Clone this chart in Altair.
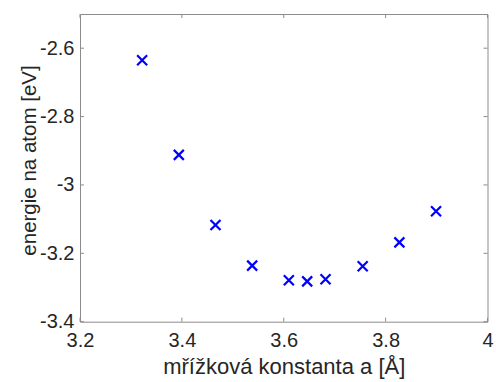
import altair as alt
import pandas as pd

# data
lattice_a = [3.322, 3.394, 3.466, 3.538, 3.610, 3.646, 3.682, 3.755, 3.827, 3.899]
energy = [-2.635, -2.912, -3.117, -3.236, -3.279, -3.282, -3.276, -3.238, -3.168, -3.077]
x_ticks = [3.2, 3.4, 3.6, 3.8, 4.0]
y_ticks = [-3.4, -3.2, -3.0, -2.8, -2.6]

W, H = 407.5, 307.7
FONT = "Liberation Sans"
TXT = "#262626"
FRAME = "#8c8c8c"

df = pd.DataFrame({"a": lattice_a, "E": energy})
xt = pd.DataFrame({"v": x_ticks})
yt = pd.DataFrame({"v": y_ticks})

xscale = alt.Scale(domain=[3.2, 4.0], nice=False, zero=False)
yscale = alt.Scale(domain=[-3.4, -2.5], nice=False, zero=False)

points = alt.Chart(df).mark_point(
    shape="M-1,-1L1,1M-1,1L1,-1", filled=False, size=100, strokeWidth=2.2,
    color="#0000FF", opacity=1
).encode(
    x=alt.X("a:Q", scale=xscale, axis=alt.Axis(
        values=x_ticks, labelExpr="'' + datum.value", title="mřížková konstanta a [Å]",
        grid=False, ticks=False, domain=False, labelPadding=9, titlePadding=6,
        labelFlush=False, labelOverlap=False,
        labelFontSize=20, titleFontSize=22, labelFont=FONT, titleFont=FONT,
        labelColor=TXT, titleColor=TXT, titleFontWeight="normal")),
    y=alt.Y("E:Q", scale=yscale, axis=alt.Axis(
        values=y_ticks, labelExpr="'' + datum.value", title="energie na atom [eV]",
        grid=False, ticks=False, domain=False, labelPadding=6,
        labelFlush=False, labelOverlap=False,
        titleX=-45, titleY=146, titleBaseline="alphabetic", titleAlign="center",
        titleAngle=270,
        labelFontSize=20, titleFontSize=20.5, labelFont=FONT, titleFont=FONT,
        labelColor=TXT, titleColor=TXT, titleFontWeight="normal")),
)

tick_len = 4
bottom_ticks = alt.Chart(xt).mark_rule(color=FRAME, strokeWidth=1).encode(
    x=alt.X("v:Q", scale=xscale), y=alt.value(H), y2=alt.value(H - tick_len))
top_ticks = alt.Chart(xt).mark_rule(color=FRAME, strokeWidth=1).encode(
    x=alt.X("v:Q", scale=xscale), y=alt.value(0), y2=alt.value(tick_len))
left_ticks = alt.Chart(yt).mark_rule(color=FRAME, strokeWidth=1).encode(
    y=alt.Y("v:Q", scale=yscale), x=alt.value(0), x2=alt.value(tick_len))
right_ticks = alt.Chart(yt).mark_rule(color=FRAME, strokeWidth=1).encode(
    y=alt.Y("v:Q", scale=yscale), x=alt.value(W), x2=alt.value(W - tick_len))

chart = alt.layer(bottom_ticks, top_ticks, left_ticks, right_ticks, points).properties(
    width=W, height=H,
    autosize=alt.AutoSizeParams(type="none"),
    padding={"left": 80, "top": 14, "right": 496 - 80 - W, "bottom": 382 - 14 - H},
    background="white",
).configure_view(stroke=FRAME, strokeWidth=1)

chart.save("out.html", embed_options={"renderer": "svg", "actions": False})
